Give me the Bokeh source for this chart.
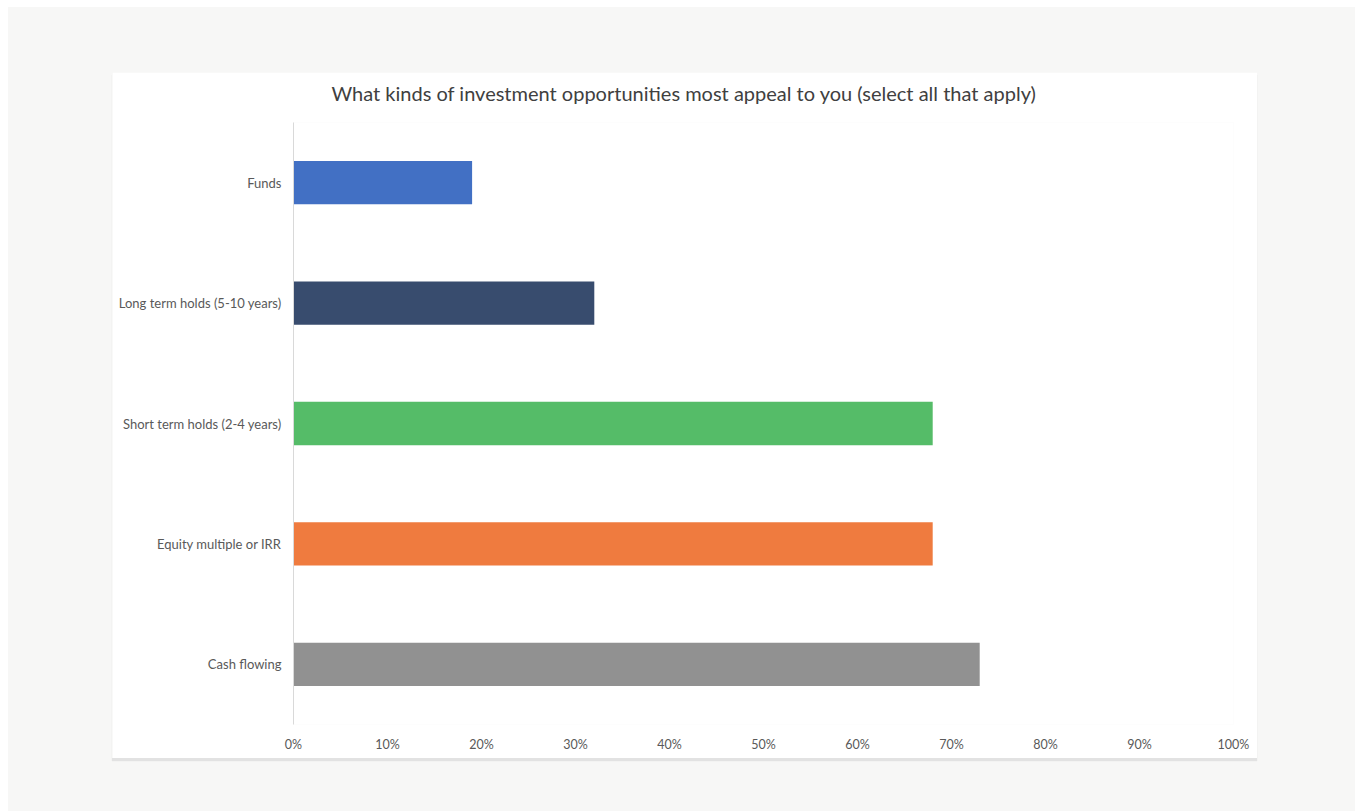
from bokeh.plotting import figure
from bokeh.models import FactorRange, Range1d, NumeralTickFormatter, FixedTicker, ColumnDataSource, Title
from bokeh.layouts import column
from bokeh.embed import file_html
from bokeh.resources import INLINE

# Data (top to bottom as in the chart)
categories = ["Funds", "Long term holds (5-10 years)", "Short term holds (2-4 years)",
              "Equity multiple or IRR", "Cash flowing"]
shares = [0.19, 0.32, 0.68, 0.68, 0.73]
colors = ["#4270c4", "#384c6e", "#55bc68", "#ef7b3f", "#919191"]
x_ticks = [0.0, 0.1, 0.2, 0.3, 0.4, 0.5, 0.6, 0.7, 0.8, 0.9, 1.0]
title_text = "What kinds of investment opportunities most appeal to you (select all that apply)"

FONT = "Lato"

source = ColumnDataSource(dict(cat=categories, val=shares, color=colors))

p = figure(
    width=1145, height=686,
    y_range=FactorRange(factors=list(reversed(categories)), range_padding=0),
    x_range=Range1d(0, 1),
    output_backend="svg", toolbar_location=None,
    title=title_text,
    min_border_left=181, min_border_right=24, min_border_top=50, min_border_bottom=34,
)

p.hbar(y="cat", right="val", left=0, height=0.36, color="color", line_color=None, source=source)

# spacer between the title and the plot frame (keeps the title higher up)
p.add_layout(Title(text=" ", text_font_size="1px", standoff=15), "above")

p.title.align = "left"
p.title.vertical_align = "bottom"
p.title.text_font = FONT
p.title.text_font_style = "normal"
p.title.text_font_size = "20px"
p.title.text_color = "#404040"
p.title.text_line_height = 1.0
p.title.offset = 38
p.title.standoff = 0

p.background_fill_color = "white"
p.border_fill_color = "white"
p.outline_line_color = None
p.xgrid.grid_line_color = None
p.ygrid.grid_line_color = None

p.xaxis.ticker = FixedTicker(ticks=x_ticks)
p.xaxis.formatter = NumeralTickFormatter(format="0%")
p.xaxis.axis_line_color = None
p.xaxis.major_tick_line_color = None
p.xaxis.minor_tick_line_color = None
p.xaxis.major_label_text_font = FONT
p.xaxis.major_label_text_font_size = "12.5px"
p.xaxis.major_label_text_color = "#595959"
p.xaxis.major_label_standoff = 6

p.yaxis.axis_line_color = "#d9d9d9"
p.yaxis.axis_line_width = 1
p.yaxis.major_tick_line_color = None
p.yaxis.minor_tick_line_color = None
p.yaxis.major_label_text_font = FONT
p.yaxis.major_label_text_font_size = "13px"
p.yaxis.major_label_text_color = "#595959"
p.yaxis.major_label_standoff = 6

p.margin = (65, 0, 0, 104)
p.styles = {"box-shadow": "0 3px 1px #e2e2e2"}

layout = column(p, width=1347, height=804, margin=(7, 0, 0, 8),
                styles={"background-color": "#f7f7f6"})

open("out.html", "w").write(file_html(layout, INLINE))
